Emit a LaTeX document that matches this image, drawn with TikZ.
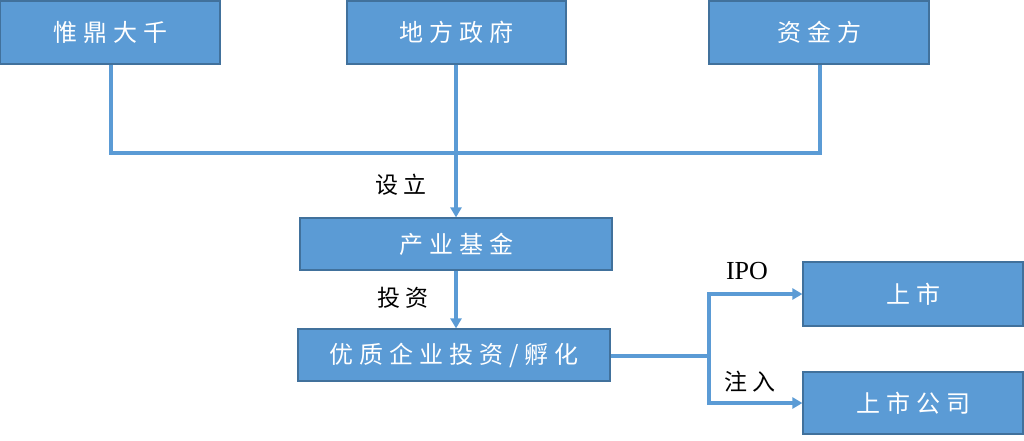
\documentclass[tikz,border=0pt]{standalone}
\usepackage{fontspec}
\setmainfont{Liberation Serif}
\newfontfamily\cjk[LetterSpace=25]{Noto Sans CJK SC}
\usetikzlibrary{arrows.meta}
\definecolor{boxfill}{HTML}{5B9BD5}
\definecolor{boxline}{HTML}{41719C}
\begin{document}
\begin{tikzpicture}[x=1pt,y=-1pt,
  blk/.style={draw=boxline,line width=1.2pt,fill=boxfill,text=white,inner sep=0pt,font=\cjk\fontsize{24}{28}\selectfont},
  con/.style={draw=boxfill,line width=3.6pt},
  arr/.style={con,-{Triangle[length=10pt,width=11pt]}},
  lbl/.style={font=\cjk\fontsize{23}{28}\selectfont,text=black,inner sep=0pt}]
\useasboundingbox (0,0) rectangle (1024,440);
\node[blk,minimum width=220pt,minimum height=63pt] (wd) at (110,32.5) {惟鼎大千};
\node[blk,minimum width=219pt,minimum height=63pt] (df) at (456.5,32.5) {地方政府};
\node[blk,minimum width=220pt,minimum height=63pt] (zj) at (819,32.5) {资金方};
\node[blk,minimum width=312pt,minimum height=52pt] (cy) at (456,244) {产业基金};
\node[blk,minimum width=312pt,minimum height=52pt] (yz) at (454,355) {优质企业投资/孵化};
\node[blk,minimum width=220pt,minimum height=64pt] (ss) at (913,294) {上市};
\node[blk,minimum width=220pt,minimum height=62pt] (sg) at (913,403) {上市公司};
\coordinate (jl) at (111,153);
\coordinate (jr) at (820,153);
\coordinate (jm) at (456,153);
\coordinate (bm) at (709,356);
\coordinate (bt) at (709,294);
\coordinate (bb) at (709,403);
\draw[con] (wd.south -| jl) -- (jl) -- (jr) -- (zj.south -| jr);
\draw[arr] (df.south -| jm) -- (cy.north -| jm);
\draw[arr] (cy.south -| jm) -- (yz.north -| jm);
\draw[con] (yz.east |- bm) -- (bm);
\draw[arr] (bb) -- (bt) -- (ss.west |- bt);
\draw[arr] (bt) -- (bb) -- (sg.west |- bb);
\node[lbl] (l1) at (401,185) {设立};
\node[lbl] (l2) at (403,298) {投资};
\node[lbl,font=\fontsize{26}{30}\selectfont] (l3) at (747,271) {IPO};
\node[lbl] (l4) at (750,382) {注入};
\end{tikzpicture}
\end{document}
